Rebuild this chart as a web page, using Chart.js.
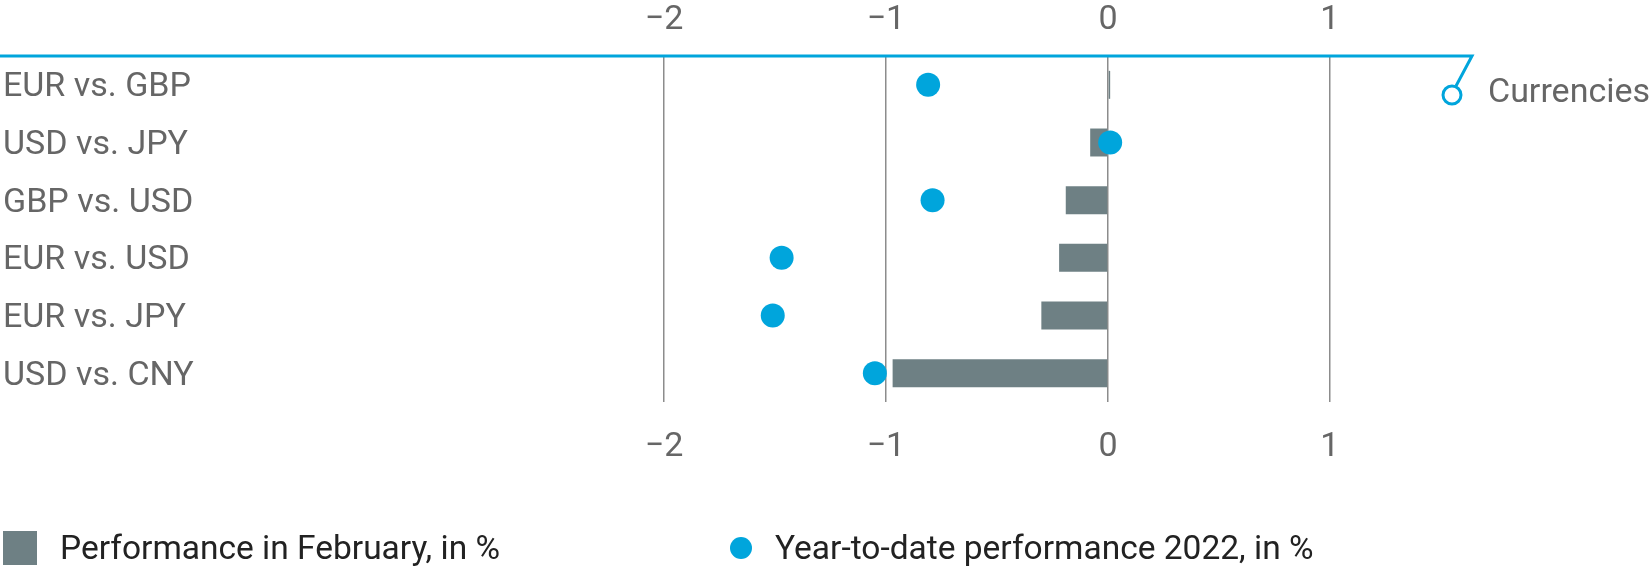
<!DOCTYPE html>
<html>
<head>
<meta charset="utf-8">
<script src="https://cdn.jsdelivr.net/npm/chart.js@4.4.1/dist/chart.umd.min.js"></script>
<style>
  html, body { margin: 0; padding: 0; background: #fff; }
  #wrap { position: relative; width: 1649px; height: 569px; }
  #legend { position: absolute; left: 0; top: 530px; font-family: Roboto, sans-serif; font-size: 33.5px; color: #222; }
  .item { position: absolute; white-space: nowrap; line-height: 36px; }
  .sw { position: absolute; }
</style>
</head>
<body>
<div id="wrap">
  <canvas id="chart" width="1649" height="569"></canvas>
  <div id="legend"></div>
</div>
<script>
// categories, top to bottom
const categories = ['EUR vs. GBP', 'USD vs. JPY', 'GBP vs. USD', 'EUR vs. USD', 'EUR vs. JPY', 'USD vs. CNY'];
// performance in February, in %
const febValues = [0.01, -0.08, -0.19, -0.22, -0.30, -0.97];
// year-to-date performance 2022, in %
const ytdValues = [-0.81, 0.01, -0.79, -1.47, -1.51, -1.05];
const xTickValues = [-2, -1, 0, 1];
const seriesNames = ['Performance in February, in %', 'Year-to-date performance 2022, in %'];
const panelTitle = 'Currencies';

const grey = '#6e8084';
const blue = '#00a5dc';
const textGrey = '#666666';
const FONT = 'Roboto, sans-serif';

const fmt = v => (v < 0 ? '\u2212' + Math.abs(v) : String(v));

// blue top line, hook and panel title
const decoration = {
  id: 'decoration',
  afterDraw(chart) {
    const { ctx, chartArea } = chart;
    const y = chartArea.top;
    const r = chartArea.right;
    ctx.save();
    ctx.strokeStyle = blue;
    ctx.lineWidth = 3;
    ctx.beginPath();
    ctx.moveTo(0, y);
    ctx.lineTo(r, y);
    ctx.lineTo(r - 16, y + 30);
    ctx.stroke();
    ctx.beginPath();
    ctx.arc(r - 20, y + 39, 9, 0, Math.PI * 2);
    ctx.fillStyle = '#fff';
    ctx.fill();
    ctx.stroke();
    ctx.fillStyle = textGrey;
    ctx.font = '34px ' + FONT;
    ctx.textBaseline = 'middle';
    ctx.fillText(panelTitle, r + 16, y + 37);
    ctx.restore();
  }
};

const sharedX = {
  type: 'linear',
  min: -4,
  max: 1.64,
  afterBuildTicks: s => { s.ticks = xTickValues.map(v => ({ value: v })); },
  border: { display: false },
  ticks: {
    color: textGrey,
    font: { family: FONT, size: 34 },
    callback: v => fmt(v)
  }
};

new Chart(document.getElementById('chart'), {
  data: {
    labels: categories,
    datasets: [
      {
        type: 'line',
        label: seriesNames[1],
        data: ytdValues,
        indexAxis: 'y',
        showLine: false,
        pointRadius: 12,
        pointHoverRadius: 12,
        pointBorderWidth: 0,
        pointBackgroundColor: blue,
        order: 0
      },
      {
        type: 'bar',
        label: seriesNames[0],
        data: febValues,
        backgroundColor: grey,
        barPercentage: 0.97,
        categoryPercentage: 0.5,
        order: 1
      }
    ]
  },
  options: {
    indexAxis: 'y',
    responsive: false,
    animation: false,
    layout: { padding: { left: 3, right: 177, top: 0, bottom: 0 } },
    plugins: { legend: { display: false }, tooltip: { enabled: false } },
    scales: {
      x: Object.assign({}, sharedX, {
        position: 'bottom',
        afterFit: s => { s.height = 167; },
        grid: {
          drawTicks: false,
          lineWidth: 1.5,
          color: c => (xTickValues.includes(c.tick.value) ? '#8c8c8c' : 'transparent')
        },
        ticks: Object.assign({}, sharedX.ticks, { padding: 25 })
      }),
      x2: Object.assign({}, sharedX, {
        position: 'top',
        afterFit: s => { s.height = 56; },
        grid: { display: false, drawTicks: false },
        ticks: Object.assign({}, sharedX.ticks, { padding: 15 })
      }),
      y: {
        type: 'category',
        position: 'left',
        afterFit: s => { s.width = 217; },
        grid: { display: false },
        border: { display: false },
        ticks: {
          crossAlign: 'far',
          labelOffset: 3,
          color: textGrey,
          font: { family: FONT, size: 34 }
        }
      }
    }
  },
  plugins: [decoration]
});

// legend
const legend = document.getElementById('legend');
const items = [
  { name: seriesNames[0], left: 3, textLeft: 60, swatch: 'width:34px;height:34px;top:1px;background:' + grey },
  { name: seriesNames[1], left: 730, textLeft: 775, swatch: 'width:22px;height:22px;top:7px;border-radius:50%;background:' + blue }
];
items.forEach(it => {
  const sw = document.createElement('div');
  sw.className = 'sw';
  sw.style.cssText = 'left:' + it.left + 'px;' + it.swatch;
  sw.style.position = 'absolute';
  legend.appendChild(sw);
  const t = document.createElement('div');
  t.className = 'item';
  t.style.left = it.textLeft + 'px';
  t.textContent = it.name;
  legend.appendChild(t);
});
</script>
</body>
</html>
